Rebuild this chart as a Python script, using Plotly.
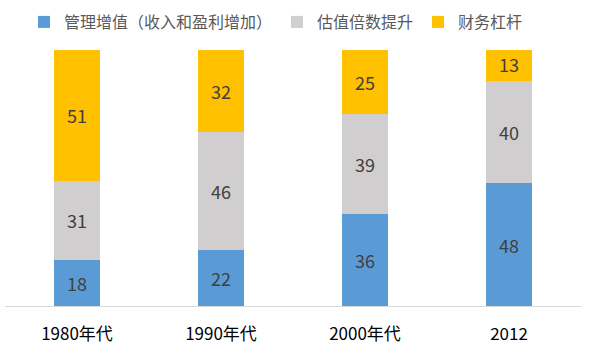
import plotly.graph_objects as go

# Decades / year on the category axis
categories = ["1980年代", "1990年代", "2000年代", "2012"]

# Share of value creation (%) by source
mgmt_value = [18, 22, 36, 48]       # 管理增值（收入和盈利增加）
multiple_expansion = [31, 46, 39, 40]  # 估值倍数提升
financial_leverage = [51, 32, 25, 13]  # 财务杠杆

series_names = ["管理增值（收入和盈利增加）", "估值倍数提升", "财务杠杆"]
series_values = [mgmt_value, multiple_expansion, financial_leverage]
series_colors = ["#5B9BD5", "#D0CECE", "#FFC000"]

FONT = "Noto Sans CJK SC"

fig = go.Figure()
for name, vals, color in zip(series_names, series_values, series_colors):
    fig.add_trace(go.Bar(
        x=categories,
        y=vals,
        name=name,
        marker=dict(color=color, line=dict(width=0)),
        text=[str(v) for v in vals],
        textposition="inside",
        insidetextanchor="middle",
        textangle=0,
        constraintext="none",
        textfont=dict(family=FONT, size=18, color="#404040"),
        hoverinfo="skip",
    ))

fig.update_layout(
    barmode="stack",
    bargap=0.68,
    width=591,
    height=347,
    margin=dict(l=5, r=10, t=50, b=41, autoexpand=False),
    paper_bgcolor="white",
    plot_bgcolor="white",
    font=dict(family=FONT, color="#595959"),
    showlegend=True,
    legend=dict(
        orientation="h",
        xref="container", yref="container",
        x=24 / 591, y=1 - 5 / 347,
        xanchor="left", yanchor="top",
        font=dict(family=FONT, size=16, color="#595959"),
        traceorder="normal",
        itemclick=False,
        itemdoubleclick=False,
    ),
    xaxis=dict(
        automargin=False,
        showline=True,
        linecolor="#D9D9D9",
        linewidth=1,
        ticks="",
        showgrid=False,
        tickfont=dict(family=FONT, size=17, color="#000000"),
        ticklabelstandoff=13,
    ),
    yaxis=dict(
        range=[0, 100],
        visible=False,
        showgrid=False,
        zeroline=False,
        automargin=False,
    ),
)

fig.write_html("out.html")
